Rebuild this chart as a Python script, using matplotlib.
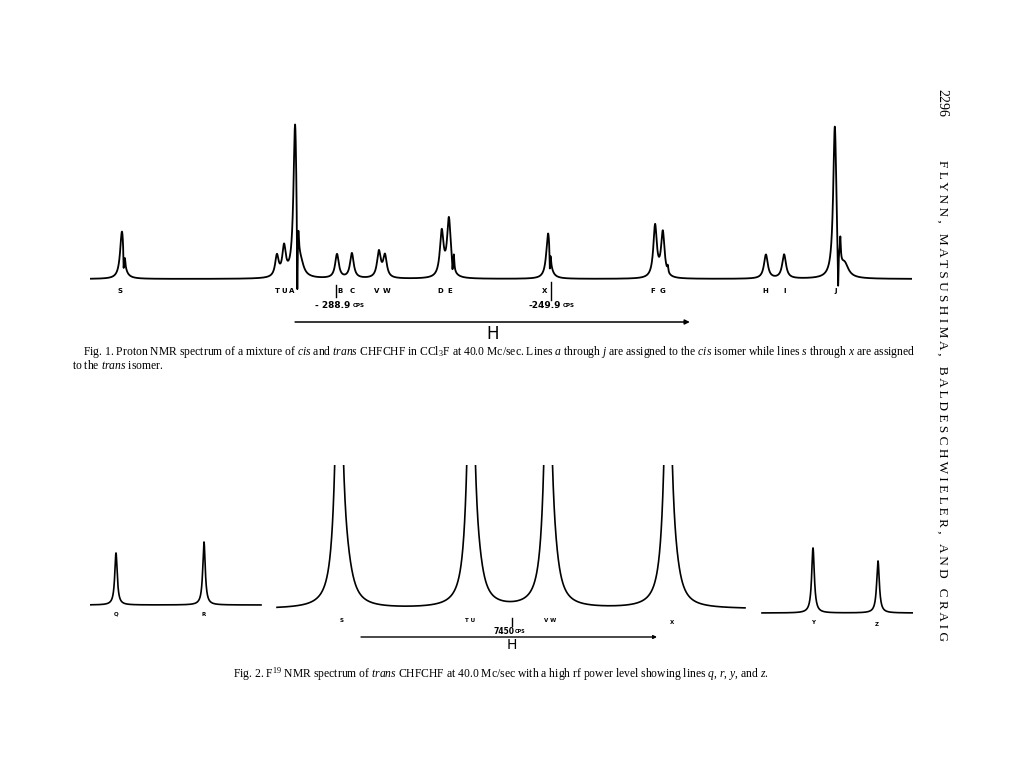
import numpy as np
import matplotlib.pyplot as plt

plt.rcParams['font.family'] = ['Liberation Serif', 'DejaVu Serif']
plt.rcParams['mathtext.fontset'] = 'custom'
plt.rcParams['mathtext.rm'] = 'Liberation Serif'
plt.rcParams['mathtext.it'] = 'Liberation Serif:italic'

# Fig. 1 - proton spectrum, line positions in cps, heights in relative units
fig1_labels = ["S", "T", "U", "A", "B", "C", "V", "W", "D", "E", "X", "F", "G", "H", "I", "J"]
fig1_pos = [-327.7, -299.6, -298.3, -296.3, -288.7, -286.0, -281.1, -280.0,
            -269.7, -268.4, -250.4, -231.0, -229.6, -210.9, -207.6, -198.4]
fig1_height = [48, 21, 29, 154, 24, 25, 26, 22, 45, 58, 46, 52, 45, 24, 24, 151]
fig1_width = [0.40, 0.38, 0.38, 0.35, 0.40, 0.40, 0.40, 0.40,
              0.40, 0.40, 0.40, 0.38, 0.38, 0.42, 0.42, 0.35]
# ringing after the strong lines (notch + spike + tail)
ring_pos = [-327.4, -327.15, -295.9, -295.7, -295.2, -267.75, -267.5,
            -250.1, -249.95, -228.7, -197.8, -197.4, -196.6]
ring_height = [-20, 5, -84, 15, 8, -10, 14, -20, 5, 6, -50, 22, 12]
ring_width = [0.06, 0.08, 0.08, 0.10, 0.60, 0.06, 0.10, 0.06, 0.08, 0.10, 0.08, 0.10, 0.80]
fig1_markers = [-288.9, -249.9]

# Fig. 2 - F19 spectrum at high rf power, three chart segments
seg_start = [0, 187, 672]
seg_end = [171, 655, 823]
seg_base = [3, -1, -5]
fig2_labels = ["Q", "R", "S", "T U", "V W", "X", "Y", "Z"]
fig2_pos = [26, 114, 249, 381, 458, 578, 723, 788]
fig2_height = [52, 63, 300, 300, 300, 300, 65, 52]
fig2_width = [1.5, 1.5, 4.0, 4.0, 4.0, 4.0, 1.6, 1.6]
fig2_seg = [0, 0, 1, 1, 1, 1, 2, 2]
shoulder_pos = [257, 389, 465, 586]
shoulder_height = [18, 12, 12, 10]
shoulder_width = [7, 6, 6, 6]
fig2_marker = 422


def lorentz(x, pos, h, w):
    y = np.zeros_like(x)
    for p, a, g in zip(pos, h, w):
        y += a * g**2 / ((x - p)**2 + g**2)
    return y


W, H = 1023, 767
fig = plt.figure(figsize=(W / 100, H / 100), dpi=100)


def frac(x0, y0, x1, y1):
    return [x0 / W, 1 - y1 / H, (x1 - x0) / W, (y1 - y0) / H]


# ---------- Fig. 1 ----------
ax1 = fig.add_axes(frac(90, 110, 912, 345))
xmin, xmax = -333.5, -184.4
x1 = np.linspace(xmin, xmax, 16000)
y1 = lorentz(x1, fig1_pos, fig1_height, fig1_width) + lorentz(x1, ring_pos, ring_height, ring_width)
ax1.plot(x1, y1, color='black', lw=1.3)
ax1.set_xlim(xmin, xmax)
ax1.set_ylim(-66, 169)
ax1.axis('off')

# label placement under each line (cps), nudged as on the chart
label1_x = [-328.1, -299.6, -298.3, -296.9, -288.2, -286.0, -281.5, -279.7,
            -270.0, -268.2, -251.0, -231.4, -229.6, -211.1, -207.5, -198.2]
for lab, p in zip(fig1_labels, label1_x):
    ax1.text(p, -12, lab, ha='center', va='center', fontsize=5,
             family='DejaVu Sans', weight='bold')

ax1.plot([fig1_markers[0]] * 2, [-6, -18], color='black', lw=1)
ax1.plot([fig1_markers[1]] * 2, [-3, -21], color='black', lw=1)
ax1.text(fig1_markers[0] + 2.6, -26, "- 288.9", ha='right', va='center', fontsize=6.5,
         family='DejaVu Sans', weight='bold')
ax1.text(fig1_markers[0] + 3.0, -26.5, "CPS", ha='left', va='center', fontsize=4,
         family='DejaVu Sans', weight='bold')
ax1.text(fig1_markers[1] + 1.8, -26, "-249.9", ha='right', va='center', fontsize=6.5,
         family='DejaVu Sans', weight='bold')
ax1.text(fig1_markers[1] + 2.2, -26.5, "CPS", ha='left', va='center', fontsize=4,
         family='DejaVu Sans', weight='bold')

ax1.annotate("", xy=(-224.7, -43), xytext=(-296.3, -43),
             arrowprops=dict(arrowstyle='-|>', color='black', lw=1.1,
                             mutation_scale=7, shrinkA=0, shrinkB=0))
ax1.text(-260.4, -55, "H", ha='center', va='center', fontsize=12, family='DejaVu Sans')

# ---------- Fig. 2 ----------
ax2 = fig.add_axes(frac(90, 465, 913, 655))
for i in range(3):
    xs = np.linspace(seg_start[i], seg_end[i], 3000)
    idx = [k for k in range(len(fig2_pos)) if fig2_seg[k] == i]
    ys = seg_base[i] + lorentz(xs, [fig2_pos[k] for k in idx],
                               [fig2_height[k] for k in idx],
                               [fig2_width[k] for k in idx])
    if i == 1:
        ys += lorentz(xs, shoulder_pos, shoulder_height, shoulder_width)
    ax2.plot(xs, ys, color='black', lw=1.2)
ax2.set_xlim(0, 823)
ax2.set_ylim(-47, 143)
ax2.axis('off')

label_x = [26, 114, 252, 380, 460, 582, 723, 787]
label_y = [-6, -6, -12, -12, -13, -14, -15, -16]
for lab, lx, ly in zip(fig2_labels, label_x, label_y):
    ax2.text(lx, ly, lab, ha='center', va='center', fontsize=4,
             family='DejaVu Sans', weight='bold')

ax2.plot([fig2_marker] * 2, [-10, -18], color='black', lw=1)
ax2.text(fig2_marker + 2, -23, "7450", ha='right', va='center', fontsize=5.5,
         family='DejaVu Sans', weight='bold')
ax2.text(fig2_marker + 3, -23.3, "CPS", ha='left', va='center', fontsize=3.5,
         family='DejaVu Sans', weight='bold')
ax2.annotate("", xy=(567, -29), xytext=(271, -29),
             arrowprops=dict(arrowstyle='-|>', color='black', lw=1.0,
                             mutation_scale=5, shrinkA=0, shrinkB=0))
ax2.text(422, -37, "H", ha='center', va='center', fontsize=10, family='DejaVu Sans')

# ---------- captions and running head ----------
cap1a = (r"Fig. 1. Proton NMR spectrum of a mixture of $\mathit{cis}$ and $\mathit{trans}$ "
         r"CHFCHF in CCl$_3$F at 40.0 Mc/sec. Lines $\mathit{a}$ through $\mathit{j}$ are assigned "
         r"to the $\mathit{cis}$ isomer while lines $\mathit{s}$ through $\mathit{x}$ are assigned")
cap1b = r"to the $\mathit{trans}$ isomer."
cap2 = (r"Fig. 2. F$^{19}$ NMR spectrum of $\mathit{trans}$ CHFCHF at 40.0 Mc/sec with a high rf "
        r"power level showing lines $\mathit{q}$, $\mathit{r}$, $\mathit{y}$, and $\mathit{z}$.")

fig.text(83 / W, 1 - 352 / H, cap1a, ha='left', va='center', fontsize=8.4)
fig.text(72 / W, 1 - 365.5 / H, cap1b, ha='left', va='center', fontsize=8.4)
fig.text(501 / W, 1 - 674 / H, cap2, ha='center', va='center', fontsize=8.4)

fig.text(942 / W, 1 - 103 / H, "2296", rotation=270, ha='center', va='center', fontsize=10)
authors = "   ".join(" ".join(w) for w in "FLYNN, MATSUSHIMA, BALDESCHWIELER, AND CRAIG".split())
fig.text(942 / W, 1 - 400 / H, authors, rotation=270, ha='center', va='center', fontsize=9.5)

fig.savefig("out.png", dpi=100, facecolor='white')
